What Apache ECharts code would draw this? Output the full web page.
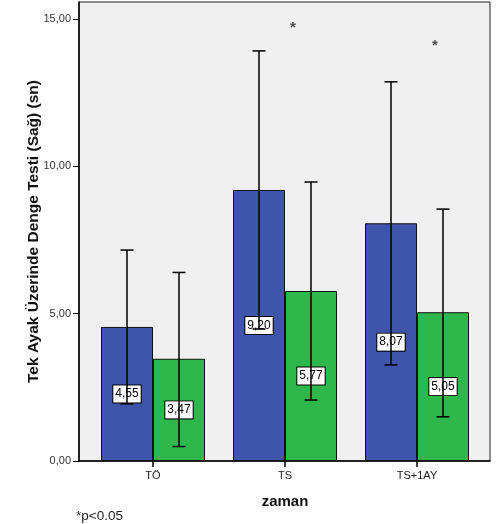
<!DOCTYPE html>
<html><head><meta charset="utf-8">
<script src="https://cdn.jsdelivr.net/npm/echarts@6/dist/echarts.min.js"></script>
<style>html,body{margin:0;padding:0;background:#fff}#c{width:499px;height:524px}</style>
</head><body><div id="c"></div>
<script>
const categories = ['TÖ', 'TS', 'TS+1AY'];
const meansA = [4.55, 9.20, 8.07];
const meansB = [3.47, 5.77, 5.05];
const lowerA = [1.94, 4.48, 3.26];
const upperA = [7.16, 13.92, 12.87];
const lowerB = [0.49, 2.07, 1.50];
const upperB = [6.40, 9.47, 8.55];
const yTicks = [0, 5, 10, 15];
const yMax = 15.58;
const starMarks = [[1, 14.77], [2, 14.17]];

const FONT = 'Liberation Sans, Arial, sans-serif';
const fmt = v => v.toFixed(2).replace('.', ',');

function errSeries(lo, hi, off) {
  return {
    type: 'custom', xAxisIndex: 1, yAxisIndex: 1, z: 5,
    data: lo.map((l, i) => [i, l, hi[i]]),
    renderItem: function (params, api) {
      const i = api.value(0);
      const p1 = api.coord([i, api.value(1)]);
      const p2 = api.coord([i, api.value(2)]);
      const x = p1[0] + off, hw = 6.5;
      const st = { stroke: '#000', lineWidth: 1.5 };
      return { type: 'group', children: [
        { type: 'line', shape: { x1: x, y1: p1[1], x2: x, y2: p2[1] }, style: st },
        { type: 'line', shape: { x1: x - hw, y1: p1[1], x2: x + hw, y2: p1[1] }, style: st },
        { type: 'line', shape: { x1: x - hw, y1: p2[1], x2: x + hw, y2: p2[1] }, style: st }
      ]};
    }
  };
}

const barLabel = {
  show: true, position: 'inside', formatter: p => fmt(p.value),
  backgroundColor: '#fff', borderColor: '#000', borderWidth: 1,
  padding: [3, 2, 2, 2], color: '#000', fontSize: 12, fontFamily: FONT
};

const chart = echarts.init(document.getElementById('c'), null, { renderer: 'canvas' });
chart.setOption({
  animation: false,
  grid: [
    { left: 79, right: 9, top: 2, bottom: 63, show: true, backgroundColor: '#f0f0f0', borderColor: '#222', borderWidth: 1, z: 0 },
    { left: 87, width: 396, top: 2, bottom: 63 }
  ],
  xAxis: [
    { gridIndex: 0, type: 'value', min: 0, max: 1, axisLine: { show: true, onZero: false, lineStyle: { color: '#000', width: 1.5 } },
      axisTick: { show: false }, axisLabel: { show: false }, splitLine: { show: false } },
    { gridIndex: 1, type: 'category', data: categories, axisLine: { show: false },
      axisTick: { show: true, alignWithLabel: true, length: 6, lineStyle: { color: '#000', width: 1.5 } },
      axisLabel: { color: '#222', fontSize: 11, fontFamily: FONT, margin: 9 },
      name: 'zaman', nameLocation: 'middle', nameGap: 33,
      nameTextStyle: { fontSize: 15, fontWeight: 'bold', color: '#111', fontFamily: FONT } }
  ],
  yAxis: [
    { gridIndex: 0, type: 'value', min: 0, max: yMax, interval: 5,
      axisLine: { show: true, lineStyle: { color: '#000', width: 1.5 } },
      axisTick: { show: true, length: 6, lineStyle: { color: '#000' } },
      axisLabel: { formatter: v => yTicks.includes(v) ? fmt(v) : '', color: '#333', fontSize: 11, fontFamily: FONT, margin: 8, showMaxLabel: false },
      splitLine: { show: false },
      name: 'Tek Ayak Üzerinde Denge Testi (Sağ) (sn)', nameLocation: 'middle', nameGap: 37, nameRotate: 90,
      nameMoveOverlap: false,
      nameTextStyle: { fontSize: 15.5, fontWeight: 'bold', color: '#111', fontFamily: FONT } },
    { gridIndex: 1, type: 'value', min: 0, max: yMax, show: false }
  ],
  series: [
    { type: 'bar', xAxisIndex: 1, yAxisIndex: 1, data: meansA, barWidth: 52, barGap: '0%',
      itemStyle: { color: '#3f55aa', borderColor: '#111', borderWidth: 1 }, label: barLabel },
    { type: 'bar', xAxisIndex: 1, yAxisIndex: 1, data: meansB, barWidth: 52, barGap: '0%',
      itemStyle: { color: '#2eb84b', borderColor: '#111', borderWidth: 1 }, label: barLabel },
    errSeries(lowerA, upperA, -26),
    errSeries(lowerB, upperB, 26),
    { type: 'scatter', xAxisIndex: 1, yAxisIndex: 1, symbolSize: 0,
      data: [
        { value: starMarks[0], label: { offset: [8, 2] } },
        { value: starMarks[1], label: { offset: [18, 2] } }
      ],
      label: { show: true, formatter: '*', fontSize: 15, fontWeight: 'bold', color: '#222', fontFamily: FONT } }
  ],
  graphic: [
    { type: 'text', left: 76, top: 509, style: { text: '*p<0.05', fontSize: 13.5, fill: '#222', fontFamily: FONT } }
  ]
});
</script></body></html>
